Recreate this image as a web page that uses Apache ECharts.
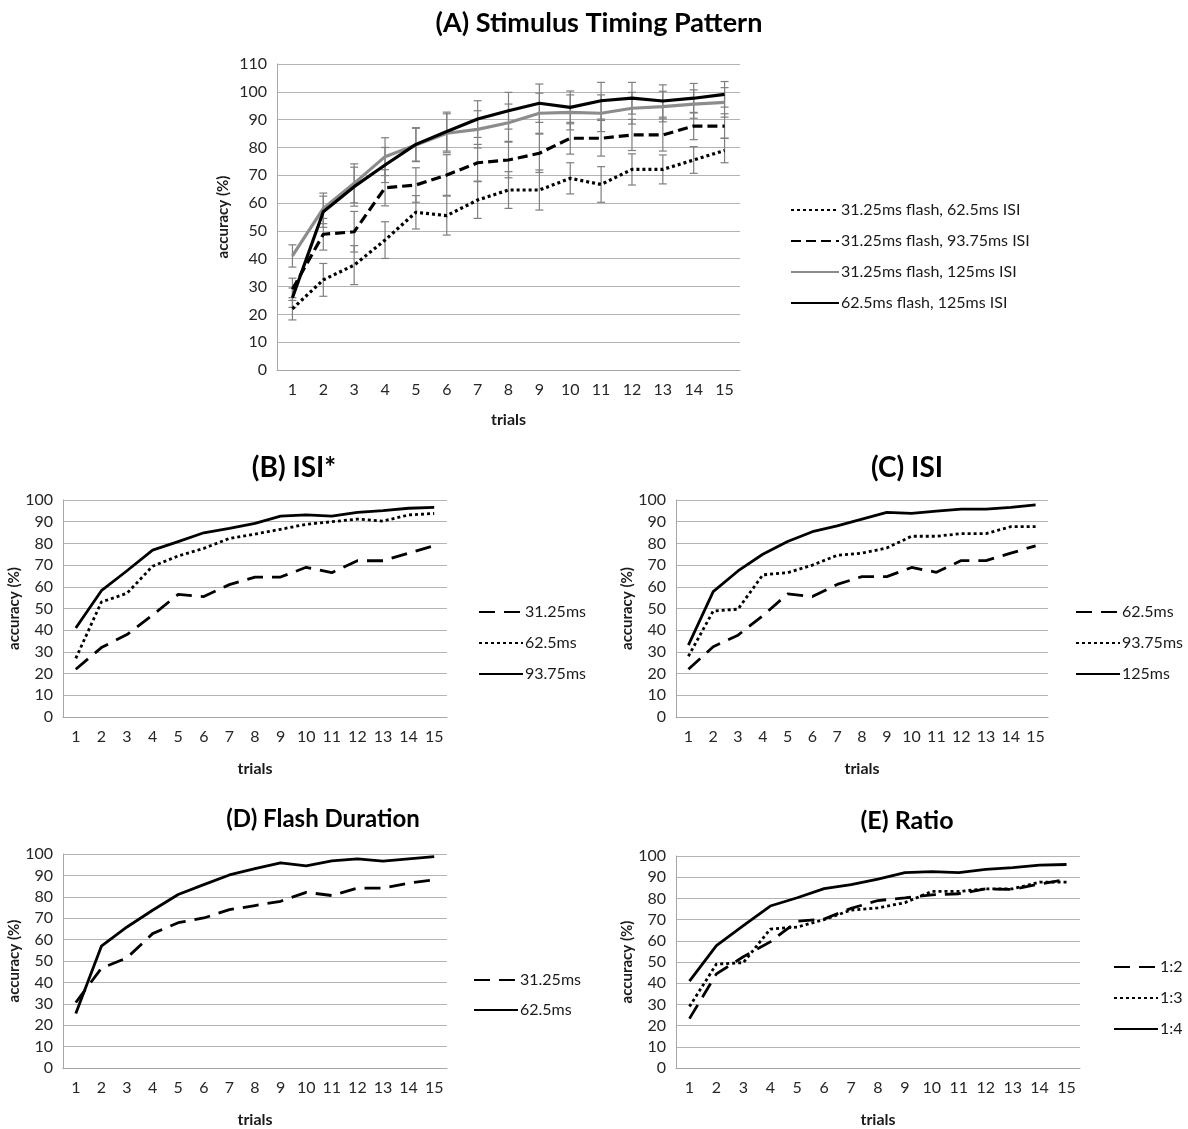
<!DOCTYPE html>
<html><head><meta charset="utf-8">
<script src="https://cdn.jsdelivr.net/npm/echarts@6/dist/echarts.min.js"></script>
<style>
html,body{margin:0;padding:0;background:#fff;width:1188px;height:1129px;overflow:hidden;}
.pane{position:absolute;left:0;top:0;width:1188px;height:1129px;}
</style></head>
<body>
<div id="A" class="pane"></div><div id="B" class="pane"></div><div id="C" class="pane"></div><div id="D" class="pane"></div><div id="E" class="pane"></div>
<script>
// ---------- data ----------
const trials = ['1','2','3','4','5','6','7','8','9','10','11','12','13','14','15'];

// (A) Stimulus Timing Pattern
const aNames = ['31.25ms flash, 62.5ms ISI','31.25ms flash, 93.75ms ISI','31.25ms flash, 125ms ISI','62.5ms flash, 125ms ISI'];
const aF31Isi62  = [22,32.4,37.7,46.7,56.7,55.5,61.1,64.7,64.7,68.9,66.7,72.1,72.1,75.5,78.9];
const aF31Isi94  = [29,48.8,49.7,65.5,66.5,70.1,74.5,75.5,77.9,83.3,83.3,84.5,84.5,87.7,87.7];
const aF31Isi125 = [41,58.1,67.1,76.7,80.9,85.1,86.5,88.9,92.3,92.6,92.3,94.1,94.7,95.6,96.2];
const aF62Isi125 = [26,56.9,65.9,73.7,81.1,85.7,90.2,93.2,95.9,94.4,96.8,97.7,96.7,97.7,99.1];
// error bar half-widths
const aErrF31Isi62  = [4,5.9,7,6.6,6,7,6.6,6.6,7.2,5.6,6.4,5.6,5.2,4.8,4.4];
const aErrF31Isi94  = [4,5.7,7.3,6.5,6.2,7.3,6.6,6.4,6.9,5.7,6.4,5.6,5.8,4.9,4.4];
const aErrF31Isi125 = [4,5.5,7,6.8,6,7,6.7,6.7,7.2,6.3,6.6,5.7,5.5,5.1,5.3];
const aErrF62Isi125 = [3.5,5.6,7,6.3,6,7,6.6,6.6,6.9,5.9,6.6,5.7,5.8,5.3,4.6];

// (B) ISI*
const bNames = ['31.25ms','62.5ms','93.75ms'];
const b31 = [22,32,38,47,56.5,55.5,61,64.5,64.5,69,66.5,72,72,75.5,79];
const b62 = [27,53,57,69.5,74.2,77.7,82.3,84.3,86.5,88.8,90,91.2,90.3,93.1,93.8];
const b94 = [41,58.2,67.4,76.9,80.8,84.9,86.9,89.2,92.6,93.1,92.6,94.3,95.1,96.2,96.6];

// (C) ISI
const cNames = ['62.5ms','93.75ms','125ms'];
const c62  = [22,32.4,37.7,46.7,56.7,55.5,61.1,64.7,64.7,68.9,66.7,72.1,72.1,75.5,78.9];
const c94  = [28,48.8,49.7,65.5,66.5,70,74.5,75.5,77.9,83.3,83.3,84.5,84.5,87.7,87.7];
const c125 = [33.1,57.8,67.3,75,80.9,85.4,88.1,91.2,94.3,93.8,94.9,95.8,95.8,96.6,97.8];

// (D) Flash Duration
const dNames = ['31.25ms','62.5ms'];
const d31 = [30.6,46.6,51.5,62.8,67.9,70.1,74,75.9,77.9,82.1,80.6,84.1,84.1,86.4,87.9];
const d62 = [25.5,56.9,65.9,73.7,81.1,85.7,90.2,93.2,95.9,94.4,96.8,97.7,96.7,97.7,98.8];

// (E) Ratio
const eNames = ['1:2','1:3','1:4'];
const e12 = [23.3,44.4,52.5,59.5,69.2,70.3,75.3,79,80.2,81.7,82.2,84.5,84.2,86.8,89];
const e13 = [29,49,49.7,65.5,66.5,70,74.5,75.5,78,83.3,83.3,84.5,84.5,87.7,87.7];
const e14 = [41,57.7,67.2,76.4,80.3,84.6,86.5,89.1,92.2,92.6,92.2,93.7,94.5,95.7,96];

// ---------- drawing ----------
const FONT = 'Lato, "Open Sans", sans-serif';
const DOT = [3,3], DASH = [10,5], LDASH = [16,9];

function lineSeries(name, data, color, type, width){
  return {type:'line', name, data, symbol:'none', showSymbol:false, z:3,
    lineStyle:{color, width, type, cap:'butt', join:'round'}, itemStyle:{color}, emphasis:{disabled:true}};
}
function errSeries(vals, errs){
  const d = vals.map((v,i)=>[i, v-errs[i], v+errs[i]]);
  return {type:'custom', data:d, z:2, silent:true,
    renderItem(params, api){
      const lo = api.coord([api.value(0), api.value(1)]);
      const hi = api.coord([api.value(0), api.value(2)]);
      const c = 4;
      const st = {stroke:'#7f7f7f', lineWidth:1.2};
      return {type:'group', children:[
        {type:'line', shape:{x1:lo[0],y1:lo[1],x2:hi[0],y2:hi[1]}, style:st},
        {type:'line', shape:{x1:lo[0]-c,y1:lo[1],x2:lo[0]+c,y2:lo[1]}, style:st},
        {type:'line', shape:{x1:hi[0]-c,y1:hi[1],x2:hi[0]+c,y2:hi[1]}, style:st}
      ]};
    }};
}

function panel(id, cfg){
  const chart = echarts.init(document.getElementById(id), null, {renderer:'canvas'});
  chart.setOption({
    animation:false,
    backgroundColor:'transparent',
    title:{text:cfg.title, left:cfg.titleX, top:cfg.titleY, textAlign:'center',
      textStyle:{fontFamily:FONT, fontWeight:'bold', fontSize:cfg.titleSize||26, color:'#000'}},
    grid:{left:cfg.g[0], top:cfg.g[1], width:cfg.g[2]-cfg.g[0], height:cfg.g[3]-cfg.g[1], containLabel:false},
    legend:{orient:'vertical', left:cfg.leg[0], top:cfg.leg[1], itemGap:cfg.leg[2], itemWidth:cfg.leg[3]||42, itemHeight:12,
      data:cfg.series.map(s=>s.name), selectedMode:false,
      itemStyle:{color:'rgba(0,0,0,0)', borderWidth:0, opacity:0},
      textStyle:{fontFamily:FONT, fontSize:cfg.legSize||16, color:'#1a1a1a', padding:[0,0,0,-3]}},
    xAxis:{type:'category', data:trials, boundaryGap:true,
      name:'trials', nameLocation:'middle', nameGap:cfg.xNameGap||44,
      nameTextStyle:{fontFamily:FONT, fontWeight:'bold', fontSize:16, color:'#1a1a1a'},
      axisLine:{show:true, lineStyle:{color:'#a6a6a6', width:1}}, axisTick:{show:false},
      axisLabel:{fontFamily:FONT, fontSize:cfg.tickSize||16, color:'#262626', margin:cfg.xMargin||12}},
    yAxis:{type:'value', min:0, max:cfg.ymax, interval:10,
      name:'accuracy (%)', nameLocation:'middle', nameGap:cfg.yNameGap||40,
      nameTextStyle:{fontFamily:FONT, fontWeight:'bold', fontSize:15, color:'#1a1a1a'},
      axisLine:{show:true, lineStyle:{color:'#a6a6a6', width:1}}, axisTick:{show:false},
      splitLine:{lineStyle:{color:'#b3b3b3', width:1}},
      axisLabel:{fontFamily:FONT, fontSize:cfg.tickSize||16, color:'#262626', margin:cfg.yMargin||10}},
    series:(cfg.extra||[]).concat(cfg.series)
  });
}

panel('A', {
  title:'(A) Stimulus Timing Pattern', titleX:594, titleY:5, titleSize:27,
  g:[277,64,740,370], ymax:110, xNameGap:42, yNameGap:46,
  leg:[785,197,15,48], legSize:16,
  extra:[errSeries(aF31Isi62,aErrF31Isi62), errSeries(aF31Isi94,aErrF31Isi94),
         errSeries(aF31Isi125,aErrF31Isi125), errSeries(aF62Isi125,aErrF62Isi125)],
  series:[lineSeries(aNames[0],aF31Isi62,'#000',DOT,3.2),
          lineSeries(aNames[1],aF31Isi94,'#000',DASH,3.2),
          lineSeries(aNames[2],aF31Isi125,'#8c8c8c','solid',3.2),
          lineSeries(aNames[3],aF62Isi125,'#000','solid',3.2)]
});
panel('B', {
  title:'(B) ISI*', titleX:289, titleY:449, titleSize:28,
  g:[63,500,447,717], ymax:100, xNameGap:44, yNameGap:41,
  leg:[473,599,15,44],
  series:[lineSeries(bNames[0],b31,'#000',LDASH,2.8),
          lineSeries(bNames[1],b62,'#000',DOT,2.8),
          lineSeries(bNames[2],b94,'#000','solid',2.8)]
});
panel('C', {
  title:'(C) ISI', titleX:902, titleY:449, titleSize:28,
  g:[676,500,1048,717], ymax:100, xNameGap:44, yNameGap:41,
  leg:[1070,599,15,44],
  series:[lineSeries(cNames[0],c62,'#000',LDASH,2.8),
          lineSeries(cNames[1],c94,'#000',DOT,2.8),
          lineSeries(cNames[2],c125,'#000','solid',2.8)]
});
panel('D', {
  title:'(D) Flash Duration', titleX:318, titleY:802, titleSize:24,
  g:[63,854,447,1069], ymax:100, xNameGap:44, yNameGap:41,
  leg:[468,967,14,44],
  series:[lineSeries(dNames[0],d31,'#000',LDASH,2.8),
          lineSeries(dNames[1],d62,'#000','solid',2.8)]
});
panel('E', {
  title:'(E) Ratio', titleX:902, titleY:803, titleSize:25,
  g:[676,856,1080,1072], ymax:100, xNameGap:44, yNameGap:41,
  leg:[1108,954,15,44],
  series:[lineSeries(eNames[0],e12,'#000',LDASH,2.8),
          lineSeries(eNames[1],e13,'#000',DOT,2.8),
          lineSeries(eNames[2],e14,'#000','solid',2.8)]
});
</script>
</body></html>
